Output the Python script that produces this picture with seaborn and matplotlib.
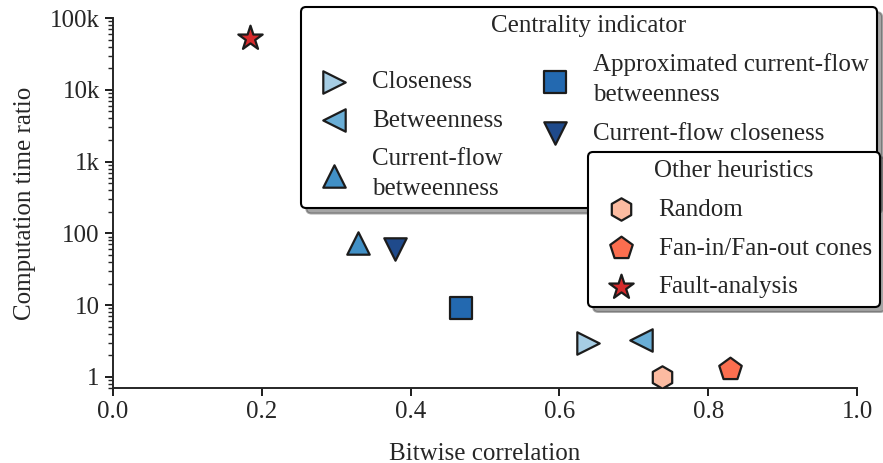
import matplotlib
matplotlib.use("Agg")
import matplotlib.pyplot as plt
from matplotlib.patches import Shadow
import seaborn as sns
import pandas as pd

# ---- data ----
centrality_names = ["Closeness", "Betweenness", "Current-flow\nbetweenness",
                    "Approximated current-flow\nbetweenness", "Current-flow closeness"]
centrality_x = [0.638, 0.709, 0.329, 0.468, 0.379]
centrality_y = [3.0, 3.27, 74.0, 9.1, 60.0]
centrality_markers = [">", "<", "^", "s", "v"]
centrality_colors = ["#a6cde4", "#6aaed6", "#4190c6", "#2369b0", "#1f4a8b"]

other_names = ["Random", "Fan-in/Fan-out cones", "Fault-analysis"]
other_x = [0.738, 0.829, 0.184]
other_y = [1.0, 1.3, 53000.0]
other_markers = ["h", "p", "*"]
other_colors = ["#fcbba1", "#fb6e4f", "#d62a2c"]

y_ticks = [1, 10, 100, 1000, 10000, 100000]
y_tick_labels = ["1", "10", "100", "1k", "10k", "100k"]
x_ticks = [0.0, 0.2, 0.4, 0.6, 0.8, 1.0]

sns.set_theme(style="ticks")
plt.rcParams["font.family"] = ["Liberation Serif", "DejaVu Serif"]
plt.rcParams["font.size"] = 18
plt.rcParams["axes.linewidth"] = 1.4

fig = plt.figure(figsize=(8.83, 4.63), dpi=100)
ax = fig.add_axes([0.128, 0.162, 0.8427, 0.799])

def plot_group(names, xs, ys, markers, colors, size):
    handles = []
    for n, x, y, m, c in zip(names, xs, ys, markers, colors):
        df = pd.DataFrame({"x": [x], "y": [y]})
        n0 = len(ax.collections)
        sns.scatterplot(data=df, x="x", y="y", marker=m, color=c, s=size,
                        edgecolor="#1c1c1c", linewidth=1.6, ax=ax, legend=False,
                        zorder=3)
        handles.append(ax.collections[n0])
    return handles

h1 = plot_group(centrality_names, centrality_x, centrality_y,
                centrality_markers, centrality_colors, 260)
h2 = plot_group(other_names, other_x, other_y,
                other_markers, other_colors, 260)
h2[1].set_sizes([290])
h2[2].set_sizes([340])

ax.set_yscale("log")
ax.set_xlim(0, 1)
ax.set_ylim(0.7, 1e5)
ax.set_xticks(x_ticks)
ax.set_xticklabels([f"{v:.1f}" for v in x_ticks])
ax.set_yticks(y_ticks)
ax.set_yticklabels(y_tick_labels)
ax.tick_params(axis="both", which="major", length=6, width=1.4, labelsize=18, color="#1c1c1c")
ax.tick_params(axis="y", which="minor", length=3.5, width=1.0)
ax.set_xlabel("Bitwise correlation", fontsize=18, labelpad=14)
ax.set_ylabel("Computation time ratio", fontsize=18, labelpad=10)
sns.despine(ax=ax)

leg_kw = dict(frameon=True, fancybox=True, shadow=False, edgecolor="black",
              framealpha=1, fontsize=18, title_fontsize=18, scatterpoints=1,
              handletextpad=0.5, labelspacing=0.65, borderpad=0.33,
              borderaxespad=0,
              bbox_transform=fig.transFigure, loc="upper right")
leg1 = ax.legend(h1, centrality_names, title="Centrality indicator", ncol=2,
                 columnspacing=1.1, bbox_to_anchor=(0.993, 0.985), **leg_kw)
ax.add_artist(leg1)
leg2 = ax.legend(h2, other_names, title="Other heuristics",
                 bbox_to_anchor=(0.9966, 0.672), **leg_kw)
for leg in (leg1, leg2):
    leg.get_frame().set_linewidth(1.5)
    leg.set_zorder(6)
    for t in leg.get_texts():
        t.set_linespacing(1.45)

fig.canvas.draw()
for leg, z in ((leg1, 5.5), (leg2, 6.5)):
    sh = Shadow(leg.legendPatch, 3.8, -3.8)
    sh.set_zorder(z)
    sh.set_clip_on(False)
    ax.add_artist(sh)
leg2.set_zorder(7)

fig.savefig("out.png", dpi=100)
